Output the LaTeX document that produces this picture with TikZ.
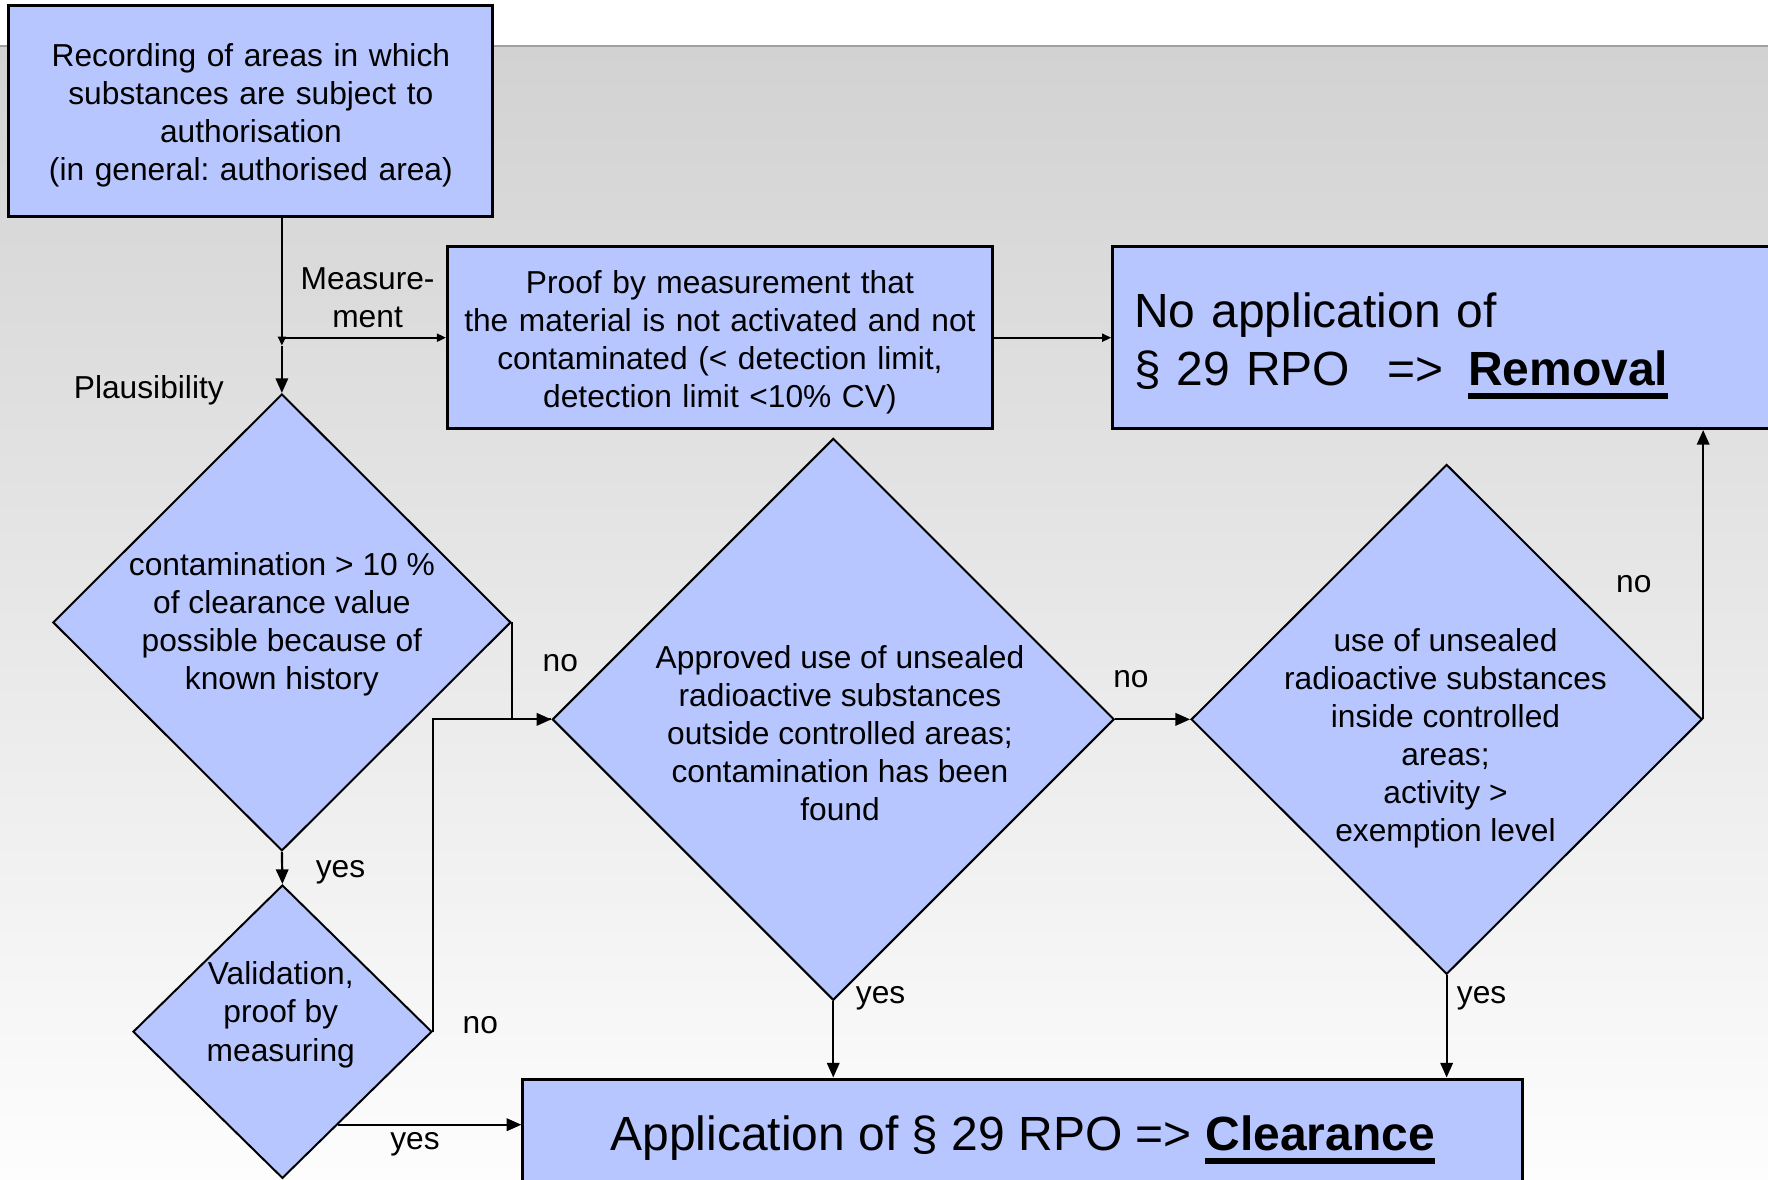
\documentclass[tikz,border=0pt]{standalone}
\usepackage{fontspec}
\setmainfont{Liberation Sans}
\usetikzlibrary{shapes.geometric,arrows.meta,calc}
\definecolor{boxblue}{RGB}{183,198,255}
\definecolor{bgtop}{RGB}{210,210,210}
\definecolor{bgbottom}{RGB}{253,253,253}
\definecolor{rulegray}{RGB}{160,160,160}
% bold word with a heavy underline
\newcommand\ulbold[1]{\setbox0=\hbox{\textbf{#1}}\rlap{\rule[-3.3pt]{\wd0}{1.5pt}}\box0}
\frenchspacing
\begin{document}
\begin{tikzpicture}[x=0.01cm,y=-0.01cm,
  every node/.style={font=\fontsize{8}{9.6}\selectfont},
  bigtext/.style={font=\fontsize{12.1}{14.8}\selectfont},
  procbox/.style={draw, fill=boxblue, line width=0.75pt, inner sep=0pt, align=center},
  topstrut/.style={execute at begin node={\rule{0pt}{#1}}},
  decision/.style={diamond, draw, fill=boxblue, line width=0.5pt, inner sep=0pt, aspect=1},
  lbl/.style={inner sep=0pt, align=center},
  flow/.style={line width=0.55pt, -{Triangle[length=1.3mm,width=1.1mm]}},
  flowsmall/.style={line width=0.55pt, -{Triangle[length=0.8mm,width=0.7mm]}},
  plain/.style={line width=0.55pt}]

% page and background
\useasboundingbox (0,0) rectangle (1568,1046);
\clip (0,0) rectangle (1568,1046);
\fill[white] (0,0) rectangle (1568,41);
\shade[top color=bgtop, bottom color=bgbottom] (0,41) rectangle (1568,1046);
\draw[rulegray, line width=0.6pt] (0,41) -- (1568,41);

% process boxes
\node[procbox, topstrut=7.85pt, text width=4.2cm, minimum width=4.29cm, minimum height=1.87cm] (rec) at (222.5,98.5)
  {Recording of areas in which\\substances are subject to\\authorisation\\(in general: authorised area)};
\node[procbox, topstrut=8.15pt, text width=4.75cm, minimum width=4.83cm, minimum height=1.61cm] (proof) at (638.5,299.5)
  {Proof by measurement that\\the material is not activated and not\\contaminated (< detection limit,\\detection limit <10\% CV)};
\node[procbox, bigtext, topstrut=12.8pt, minimum width=6.13cm, minimum height=1.61cm, text width=5.75cm, align=left] (remove) at (1293.5,299.5)
  {No application of\\§ 29 RPO\hspace{0.33cm}=>\hspace{0.22cm}\ulbold{Removal}};
\node[procbox, bigtext, topstrut=11.7pt, minimum width=8.86cm, minimum height=0.98cm] (clear) at (907,1006)
  {Application of § 29 RPO => \ulbold{Clearance}};

% decisions
\node[decision, minimum width=4.06cm, minimum height=4.05cm] (d1) at (250,552) {};
\node[lbl] (d1t) at (250,554)
  {contamination > 10 \%\\of clearance value\\possible because of\\known history};
\node[decision, minimum width=2.65cm, minimum height=2.60cm] (d3) at (250.5,915) {};
\node[lbl] (d3t) at (249,900) {Validation,\\proof by\\measuring};
\node[decision, minimum width=4.98cm, minimum height=4.98cm] (d2) at (739,638) {};
\node[lbl] (d2t) at (745,650)
  {Approved use of unsealed\\radioactive substances\\outside controlled areas;\\contamination has been\\found};
\node[decision, minimum width=4.53cm, minimum height=4.52cm] (d4) at (1283,638) {};
\node[lbl] (d4t) at (1282,655)
  {use of unsealed\\radioactive substances\\inside controlled\\areas;\\activity >\\exemption level};

% connectors
\coordinate (mj) at (d1.north |- proof.west);
\draw[flowsmall] (d1.north |- rec.south) -- ([yshift=-0.07cm]mj);
\draw[flow] ([yshift=-0.07cm]mj) -- (d1.north);
\draw[flowsmall] (mj) -- (proof.west);
\draw[flowsmall] (proof.east) -- (remove.west);
\draw[flow] (d1.east) |- (d2.west);
\draw[plain] (d3.east) |- (d2.west);
\draw[flow] (d1.south) -- (d3.north);
\coordinate (vy) at ($(d3.east)!0.63!(d3.south)$);
\draw[flow] (vy) -- (vy -| clear.west);
\draw[flow] (d2.east) -- (d4.west);
\draw[flow] (d4.east) -- (d4.east |- remove.south);
\draw[flow] (d2.south) -- (d2.south |- clear.north);
\draw[flow] (d4.south) -- (d4.south |- clear.north);

% connector labels
\node[lbl] (lmeas) at (326,264) {Measure-\\ment};
\node[lbl] (lplaus) at (132,346) {Plausibility};
\node[lbl] (lno1) at (497,588) {no};
\node[lbl] (lyes1) at (302,774) {yes};
\node[lbl] (lno2) at (426,909) {no};
\node[lbl] (lyes2) at (368,1015) {yes};
\node[lbl] (lyes3) at (781,885) {yes};
\node[lbl] (lno3) at (1003,602) {no};
\node[lbl] (lno4) at (1449,518) {no};
\node[lbl] (lyes4) at (1314,885) {yes};
\end{tikzpicture}
\end{document}
